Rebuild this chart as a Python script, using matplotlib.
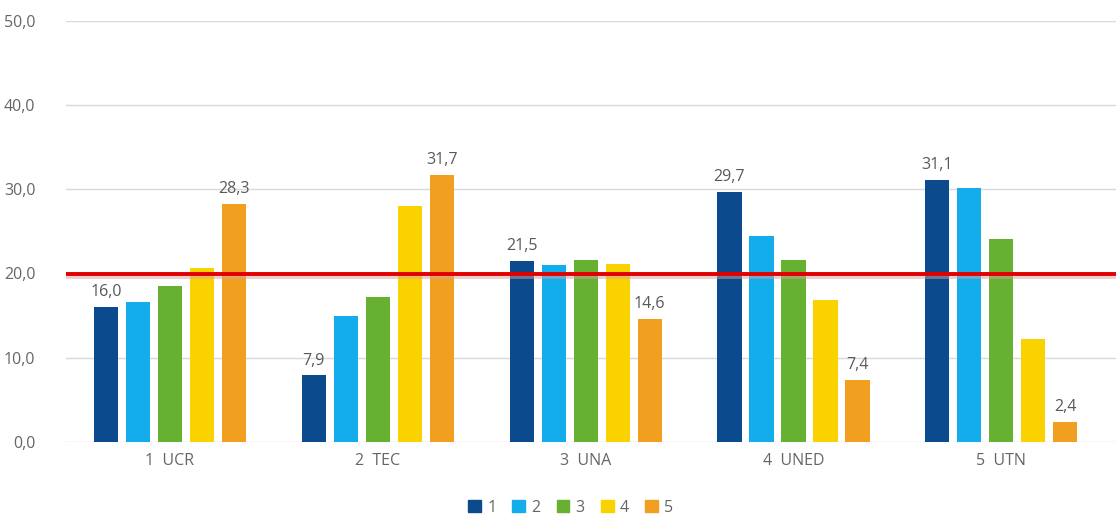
import numpy as np
import matplotlib.pyplot as plt
from matplotlib.patches import Patch

categories = ['1  UCR', '2  TEC', '3  UNA', '4  UNED', '5  UTN']
series_names = ['1', '2', '3', '4', '5']
s1 = [16.0, 7.9, 21.5, 29.7, 31.1]
s2 = [16.6, 15.0, 21.0, 24.4, 30.1]
s3 = [18.5, 17.2, 21.6, 21.6, 24.1]
s4 = [20.6, 28.0, 21.1, 16.9, 12.2]
s5 = [28.3, 31.7, 14.6, 7.4, 2.4]
reference = 19.9

series = [s1, s2, s3, s4, s5]
colors = ['#0B4A8C', '#14ADEB', '#66B032', '#FAD200', '#F0A01E']
labelled = [0, 4]  # only first and last series carry value labels

plt.rcParams['font.family'] = ['Open Sans', 'DejaVu Sans']
fig = plt.figure(figsize=(11.19, 5.17), dpi=100)
ax = fig.add_axes([0.059, 0.145, 0.938, 0.815])

x = np.arange(len(categories))
pitch = 0.154
width = 0.116
for i, vals in enumerate(series):
    pos = x + (i - 2) * pitch
    ax.bar(pos, vals, width=width, color=colors[i], zorder=2)
    if i in labelled:
        for px, v in zip(pos, vals):
            ax.text(px, v + 0.8, f'{v:.1f}'.replace('.', ','), ha='center', va='bottom',
                    fontsize=11.5, color='#595959', zorder=4)

# target line with soft shadow
ax.axhline(reference - 0.25, color='#d9a0a0', lw=3.5, alpha=0.5, zorder=2.5)
ax.axhline(reference, color='#E00000', lw=2.8, zorder=3)

ax.set_ylim(0, 50)
ax.set_xlim(-0.5, 4.55)
ax.set_yticks(np.arange(0, 51, 10))
ax.set_yticklabels([f'{t:.1f}'.replace('.', ',') for t in np.arange(0, 51, 10)])
ax.set_xticks(x)
ax.set_xticklabels(categories)
ax.grid(axis='y', color='#d9d9d9', lw=1, zorder=0)
for s in ax.spines.values():
    s.set_visible(False)
ax.tick_params(length=0, labelsize=11.5, labelcolor='#666666')
ax.tick_params(axis='y', pad=22)
ax.tick_params(axis='x', pad=8)

handles = [Patch(color=c) for c in colors]
fig.legend(handles, series_names, loc='lower center', ncol=5, frameon=False,
           fontsize=11.5, labelcolor='#666666', handlelength=0.8, handleheight=0.8,
           handletextpad=0.4, columnspacing=1.0, bbox_to_anchor=(0.51, -0.025))

fig.savefig('out.png', dpi=100, facecolor='white')
